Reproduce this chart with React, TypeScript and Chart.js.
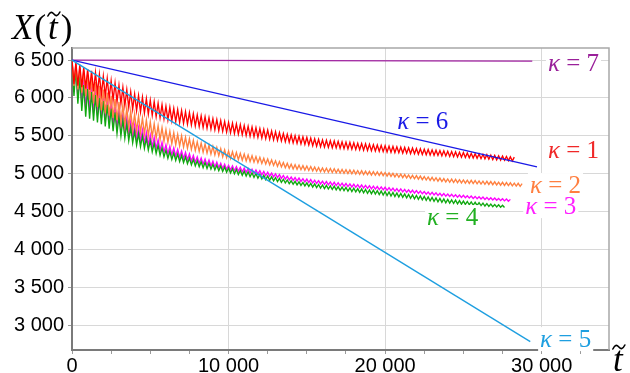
import React, { useEffect, useRef } from "react";
import { Chart, registerables } from "chart.js";

Chart.register(...registerables);

// Time spacing between a peak and the following trough of the oscillating runs
const HALF_PERIOD_T = 125;

// κ = 1 (red) — peaks at t = 0, 250, 500 …, troughs at t = 125, 375 …
const redPeaks = [6500, 6469, 6438, 6406, 6381, 6357, 6333, 6309, 6285, 6256, 6226, 6197, 6168, 6138, 6109, 6079, 6050, 6030, 6010, 5990, 5970, 5950, 5930, 5910, 5890, 5876, 5862, 5847, 5833, 5819, 5805, 5790, 5776, 5764, 5751, 5739, 5726, 5714, 5701, 5689, 5676, 5666, 5656, 5646, 5636, 5625, 5615, 5605, 5595, 5584, 5574, 5563, 5553, 5542, 5531, 5521, 5510, 5502, 5494, 5486, 5478, 5469, 5461, 5453, 5445, 5440, 5435, 5431, 5426, 5421, 5416, 5412, 5407, 5402, 5397, 5393, 5388, 5383, 5378, 5373, 5368, 5364, 5359, 5355, 5350, 5346, 5341, 5337, 5332, 5328, 5323, 5319, 5314, 5310, 5305, 5301, 5296, 5291, 5287, 5282, 5278, 5273, 5268, 5264, 5259, 5255, 5250, 5245, 5241, 5236, 5232, 5227, 5222, 5218];
const redTroughs = [6184, 6162, 6143, 6127, 6110, 6087, 6064, 6041, 6018, 5994, 5970, 5947, 5923, 5899, 5875, 5852, 5832, 5817, 5801, 5785, 5770, 5754, 5738, 5723, 5710, 5699, 5688, 5676, 5665, 5654, 5643, 5631, 5621, 5611, 5601, 5591, 5580, 5570, 5560, 5550, 5540, 5531, 5523, 5514, 5506, 5496, 5488, 5479, 5471, 5463, 5455, 5447, 5439, 5431, 5422, 5415, 5406, 5399, 5392, 5385, 5378, 5370, 5363, 5356, 5351, 5347, 5343, 5340, 5335, 5331, 5327, 5323, 5319, 5315, 5310, 5307, 5303, 5299, 5295, 5291, 5286, 5283, 5279, 5276, 5272, 5269, 5265, 5262, 5257, 5254, 5250, 5247, 5243, 5240, 5236, 5233, 5228, 5224, 5221, 5217, 5214, 5210, 5205, 5202, 5198, 5195, 5191, 5186, 5183, 5179, 5176, 5172, 5167];

// κ = 2 (orange)
const orangePeaks = [6500, 6453, 6406, 6359, 6310, 6260, 6210, 6160, 6110, 6070, 6030, 5990, 5950, 5910, 5870, 5830, 5790, 5764, 5738, 5711, 5685, 5659, 5633, 5606, 5580, 5560, 5540, 5520, 5500, 5480, 5460, 5440, 5420, 5405, 5390, 5375, 5360, 5345, 5330, 5315, 5300, 5289, 5279, 5268, 5258, 5247, 5236, 5226, 5215, 5204, 5193, 5181, 5170, 5159, 5148, 5136, 5125, 5119, 5113, 5106, 5100, 5094, 5088, 5081, 5075, 5071, 5068, 5064, 5060, 5056, 5053, 5049, 5045, 5041, 5038, 5034, 5030, 5026, 5023, 5019, 5015, 5010, 5004, 4999, 4994, 4988, 4983, 4978, 4973, 4967, 4962, 4956, 4951, 4946, 4941, 4935, 4930, 4927, 4924, 4920, 4917, 4914, 4911, 4908, 4904, 4901, 4898, 4895, 4892, 4888, 4885, 4882, 4879, 4875, 4872, 4869];
const orangeTroughs = [6157, 6112, 6068, 6023, 5976, 5929, 5881, 5834, 5795, 5765, 5735, 5705, 5675, 5645, 5615, 5585, 5561, 5542, 5523, 5504, 5486, 5467, 5448, 5429, 5412, 5397, 5382, 5367, 5352, 5337, 5322, 5307, 5295, 5283, 5271, 5259, 5247, 5235, 5223, 5211, 5201, 5193, 5185, 5177, 5168, 5161, 5152, 5144, 5135, 5126, 5117, 5108, 5097, 5088, 5079, 5070, 5062, 5058, 5052, 5047, 5042, 5037, 5031, 5026, 5021, 5018, 5015, 5012, 5008, 5005, 5002, 4999, 4995, 4992, 4989, 4986, 4982, 4979, 4976, 4973, 4968, 4963, 4957, 4952, 4948, 4943, 4937, 4932, 4927, 4921, 4916, 4911, 4906, 4901, 4896, 4890, 4886, 4883, 4881, 4877, 4874, 4871, 4869, 4866, 4862, 4859, 4857, 4854, 4851, 4847, 4844, 4842, 4839, 4835, 4832];

// κ = 3 (magenta)
const magentaPeaks = [6500, 6416, 6331, 6247, 6197, 6155, 6113, 6072, 6030, 5981, 5933, 5884, 5835, 5786, 5738, 5689, 5640, 5608, 5575, 5543, 5510, 5478, 5445, 5413, 5380, 5360, 5340, 5320, 5300, 5280, 5260, 5240, 5220, 5206, 5193, 5179, 5165, 5151, 5138, 5124, 5110, 5101, 5093, 5084, 5075, 5066, 5058, 5049, 5040, 5029, 5019, 5008, 4998, 4987, 4976, 4966, 4955, 4948, 4941, 4934, 4928, 4921, 4914, 4907, 4900, 4895, 4890, 4885, 4880, 4875, 4870, 4865, 4860, 4855, 4850, 4845, 4840, 4835, 4830, 4825, 4820, 4814, 4809, 4803, 4798, 4792, 4786, 4781, 4775, 4769, 4764, 4758, 4753, 4747, 4741, 4736, 4730, 4726, 4721, 4717, 4713, 4708, 4704, 4699, 4695, 4691, 4686, 4682, 4678, 4673, 4669, 4664, 4660];
const magentaTroughs = [6078, 5999, 5925, 5859, 5831, 5799, 5768, 5736, 5704, 5671, 5638, 5606, 5574, 5541, 5508, 5477, 5448, 5425, 5401, 5377, 5353, 5330, 5306, 5283, 5262, 5246, 5230, 5213, 5197, 5181, 5164, 5148, 5134, 5124, 5112, 5101, 5089, 5079, 5067, 5056, 5047, 5039, 5031, 5024, 5017, 5009, 5001, 4994, 4985, 4975, 4966, 4957, 4947, 4938, 4928, 4918, 4910, 4903, 4897, 4890, 4883, 4876, 4870, 4864, 4858, 4853, 4848, 4843, 4839, 4834, 4829, 4824, 4819, 4814, 4810, 4805, 4800, 4795, 4790, 4785, 4779, 4775, 4769, 4764, 4759, 4754, 4749, 4744, 4738, 4734, 4728, 4723, 4718, 4713, 4707, 4703, 4698, 4694, 4689, 4686, 4682, 4677, 4673, 4668, 4665, 4660, 4656, 4652, 4648, 4644, 4640, 4635];

// κ = 4 (green)
const greenPeaks = [6500, 6391, 6281, 6172, 6118, 6079, 6039, 6000, 5960, 5910, 5860, 5810, 5760, 5710, 5660, 5610, 5560, 5529, 5498, 5466, 5435, 5404, 5373, 5341, 5310, 5293, 5275, 5258, 5240, 5223, 5205, 5188, 5170, 5158, 5146, 5134, 5123, 5111, 5099, 5087, 5075, 5064, 5054, 5043, 5033, 5022, 5011, 5001, 4990, 4979, 4969, 4958, 4948, 4937, 4926, 4916, 4905, 4898, 4891, 4884, 4878, 4871, 4864, 4857, 4850, 4845, 4839, 4834, 4829, 4823, 4818, 4813, 4808, 4802, 4797, 4791, 4786, 4781, 4776, 4770, 4765, 4758, 4752, 4745, 4739, 4732, 4726, 4719, 4713, 4706, 4699, 4693, 4686, 4680, 4673, 4667, 4660, 4654, 4649, 4643, 4638, 4632, 4627, 4621, 4616, 4610, 4604, 4599, 4593, 4588, 4582];
const greenTroughs = [6025, 5925, 5828, 5752, 5725, 5701, 5677, 5652, 5624, 5593, 5562, 5531, 5499, 5468, 5437, 5406, 5378, 5356, 5334, 5312, 5288, 5266, 5244, 5222, 5203, 5189, 5174, 5160, 5145, 5131, 5116, 5102, 5090, 5079, 5069, 5059, 5049, 5039, 5029, 5018, 5008, 4998, 4988, 4979, 4969, 4960, 4950, 4940, 4931, 4921, 4912, 4904, 4894, 4886, 4877, 4867, 4860, 4852, 4845, 4838, 4830, 4823, 4816, 4809, 4802, 4797, 4791, 4785, 4780, 4775, 4768, 4763, 4758, 4752, 4746, 4741, 4735, 4729, 4724, 4717, 4711, 4705, 4698, 4692, 4686, 4680, 4673, 4667, 4660, 4654, 4647, 4641, 4635, 4629, 4622, 4615, 4610, 4606, 4601, 4597, 4593, 4589, 4585, 4580, 4577, 4572, 4568, 4564, 4559, 4556, 4552];

// κ = 5, 6, 7 (straight runs): start and end
const cyanT = [0, 29270];
const cyanV = [6500, 2780];
const blueT = [0, 29700];
const blueV = [6500, 5090];
const purpleT = [0, 29400];
const purpleV = [6500, 6487];

// axis ticks
const yTickValues = [3000, 3500, 4000, 4500, 5000, 5500, 6000, 6500];
const xTickValues = [0, 2500, 5000, 7500, 10000, 12500, 15000, 17500, 20000, 22500, 25000, 27500, 30000, 32500];
const xLabelValues = [0, 10000, 20000, 30000];

// curve labels: κ number, anchor (t, X)
const labelNames = ["1", "2", "3", "4", "5", "6", "7"];
const labelT = [30400, 29250, 28950, 22680, 29900, 20770, 30400];
const labelV = [5311, 4849, 4571, 4426, 2814, 5694, 6460];
const labelColors = ["#F02828", "#FF7F40", "#FF20FF", "#22B022", "#1E9FE0", "#1A1AE6", "#9A209A"];

const fmt = (v: number) => {
  if (v < 1000) return String(v);
  const th = Math.floor(v / 1000);
  const rest = String(v % 1000).padStart(3, "0");
  return `${th} ${rest}`;
};

function zigzag(peaks: number[], troughs: number[]) {
  const pts: { x: number; y: number }[] = [];
  for (let i = 0; i < peaks.length; i++) {
    pts.push({ x: 2 * i * HALF_PERIOD_T, y: peaks[i] });
    if (i < troughs.length) pts.push({ x: (2 * i + 1) * HALF_PERIOD_T, y: troughs[i] });
  }
  return pts;
}

function pairs(ts: number[], vs: number[]) {
  return ts.map((t, i) => ({ x: t, y: vs[i] }));
}

function drawTilde(ctx: CanvasRenderingContext2D, cx: number, cy: number, w: number, color: string) {
  ctx.save();
  ctx.strokeStyle = color;
  ctx.lineWidth = 1.6;
  ctx.lineCap = "round";
  const x0 = cx - w / 2;
  ctx.beginPath();
  ctx.moveTo(x0, cy + 2);
  ctx.bezierCurveTo(x0 + w * 0.2, cy - 3, x0 + w * 0.35, cy - 2, x0 + w * 0.5, cy);
  ctx.bezierCurveTo(x0 + w * 0.65, cy + 2, x0 + w * 0.8, cy + 3, x0 + w, cy - 2);
  ctx.stroke();
  ctx.restore();
}

const decorPlugin = {
  id: "decor",
  beforeDraw(chart: any) {
    const ctx = chart.ctx as CanvasRenderingContext2D;
    ctx.save();
    ctx.fillStyle = "#ffffff";
    ctx.fillRect(0, 0, chart.width, chart.height);
    ctx.restore();
  },
  afterDraw(chart: any) {
    const ctx = chart.ctx as CanvasRenderingContext2D;
    const { left, right, top, bottom } = chart.chartArea;
    const xs = chart.scales.x;
    const ys = chart.scales.y;
    ctx.save();
    // top and right frame
    ctx.strokeStyle = "#A8A8A8";
    ctx.lineWidth = 1.5;
    ctx.beginPath();
    ctx.moveTo(left, top);
    ctx.lineTo(right, top);
    ctx.lineTo(right, bottom);
    ctx.stroke();

    // curve labels
    const fs = 25;
    labelNames.forEach((name, i) => {
      const x = xs.getPixelForValue(labelT[i]);
      const y = ys.getPixelForValue(labelV[i]);
      ctx.font = `italic ${fs}px "Liberation Serif"`;
      const wk = ctx.measureText("κ").width;
      ctx.font = `${fs}px "Liberation Serif"`;
      const wr = ctx.measureText(" = " + name).width;
      ctx.fillStyle = "#ffffff";
      ctx.fillRect(x - 2, y - 12, wk + wr + 4, 24);
      ctx.fillStyle = labelColors[i];
      ctx.textBaseline = "middle";
      ctx.textAlign = "left";
      ctx.font = `italic ${fs}px "Liberation Serif"`;
      ctx.fillText("κ", x, y + 1);
      ctx.font = `${fs}px "Liberation Serif"`;
      ctx.fillText(" = " + name, x + wk, y + 1);
    });

    // y title X(t~)
    ctx.fillStyle = "#000";
    ctx.textBaseline = "alphabetic";
    ctx.textAlign = "left";
    let px = 12;
    const by = 39;
    const tf = 35;
    ctx.font = `italic ${tf}px "Liberation Serif"`;
    ctx.fillText("X", px, by);
    px += ctx.measureText("X").width + 1;
    ctx.font = `${tf}px "Liberation Serif"`;
    ctx.fillText("(", px, by);
    px += ctx.measureText("(").width + 2;
    ctx.font = `italic ${tf}px "Liberation Serif"`;
    ctx.fillText("t", px, by);
    const tw = ctx.measureText("t").width;
    drawTilde(ctx, px + tw / 2 + 1, 14, 12, "#000");
    px += tw + 3;
    ctx.font = `${tf}px "Liberation Serif"`;
    ctx.fillText(")", px, by);

    // x title t~
    ctx.font = `italic ${tf}px "Liberation Serif"`;
    ctx.fillText("t", 613, 371);
    const tw2 = ctx.measureText("t").width;
    drawTilde(ctx, 613 + tw2 / 2 + 1, 347, 12, "#000");
    ctx.restore();
  },
};

export default function App() {
  const ref = useRef<HTMLCanvasElement | null>(null);
  useEffect(() => {
    if (!ref.current) return;
    const common = { pointRadius: 0, borderWidth: 1.35, fill: false, tension: 0 };
    const chart = new Chart(ref.current, {
      type: "line",
      data: {
        datasets: [
          { ...common, label: "κ = 5", data: pairs(cyanT, cyanV), borderColor: "#1E9FE0" },
          { ...common, label: "κ = 6", data: pairs(blueT, blueV), borderColor: "#1A1AE6" },
          { ...common, label: "κ = 7", data: pairs(purpleT, purpleV), borderColor: "#A020A0" },
          { ...common, label: "κ = 1", data: zigzag(redPeaks, redTroughs), borderColor: "#FF0000" },
          { ...common, label: "κ = 2", data: zigzag(orangePeaks, orangeTroughs), borderColor: "#FF8040" },
          { ...common, label: "κ = 4", data: zigzag(greenPeaks, greenTroughs), borderColor: "#10A810" },
          { ...common, label: "κ = 3", data: zigzag(magentaPeaks, magentaTroughs), borderColor: "#FF00FF" },
        ],
      },
      options: {
        animation: false,
        responsive: false,
        devicePixelRatio: 1,
        layout: { padding: { top: 48, right: 21, left: 0, bottom: 0 } },
        plugins: { legend: { display: false }, tooltip: { enabled: false } },
        scales: {
          x: {
            type: "linear",
            min: 0,
            max: 34300,
            afterFit: (s: any) => {
              s.height = 23;
            },
            afterBuildTicks: (s: any) => {
              s.ticks = xTickValues.map((v) => ({ value: v }));
            },
            ticks: {
              autoSkip: false,
              maxRotation: 0,
              padding: 0,
              color: "#000",
              font: { family: '"Liberation Sans"', size: 20 },
              callback: (v: any) => (xLabelValues.includes(Number(v)) ? fmt(Number(v)) : ""),
            },
            grid: {
              color: (c: any) =>
                c.tick && xLabelValues.includes(c.tick.value) && c.tick.value !== 0 ? "#D8D8D8" : "rgba(0,0,0,0)",
              tickColor: "#9A9A9A",
              tickLength: 4,
            },
            border: { color: "#7A7A7A", width: 2 },
          },
          y: {
            type: "linear",
            min: 2670,
            max: 6660,
            afterFit: (s: any) => {
              s.width = 72;
            },
            afterBuildTicks: (s: any) => {
              s.ticks = yTickValues.map((v) => ({ value: v }));
            },
            ticks: {
              padding: 4,
              color: "#000",
              font: { family: '"Liberation Sans"', size: 20 },
              callback: (v: any) => fmt(Number(v)),
            },
            grid: { color: "#D8D8D8", tickColor: "#9A9A9A", tickLength: 4 },
            border: { color: "#7A7A7A", width: 2 },
          },
        },
      },
      plugins: [decorPlugin],
    } as any);
    return () => chart.destroy();
  }, []);
  return (
    <div style={{ position: "fixed", left: 0, top: 0, width: 630, height: 373, background: "#fff" }}>
      <canvas ref={ref} width={630} height={373} style={{ display: "block" }} />
    </div>
  );
}
